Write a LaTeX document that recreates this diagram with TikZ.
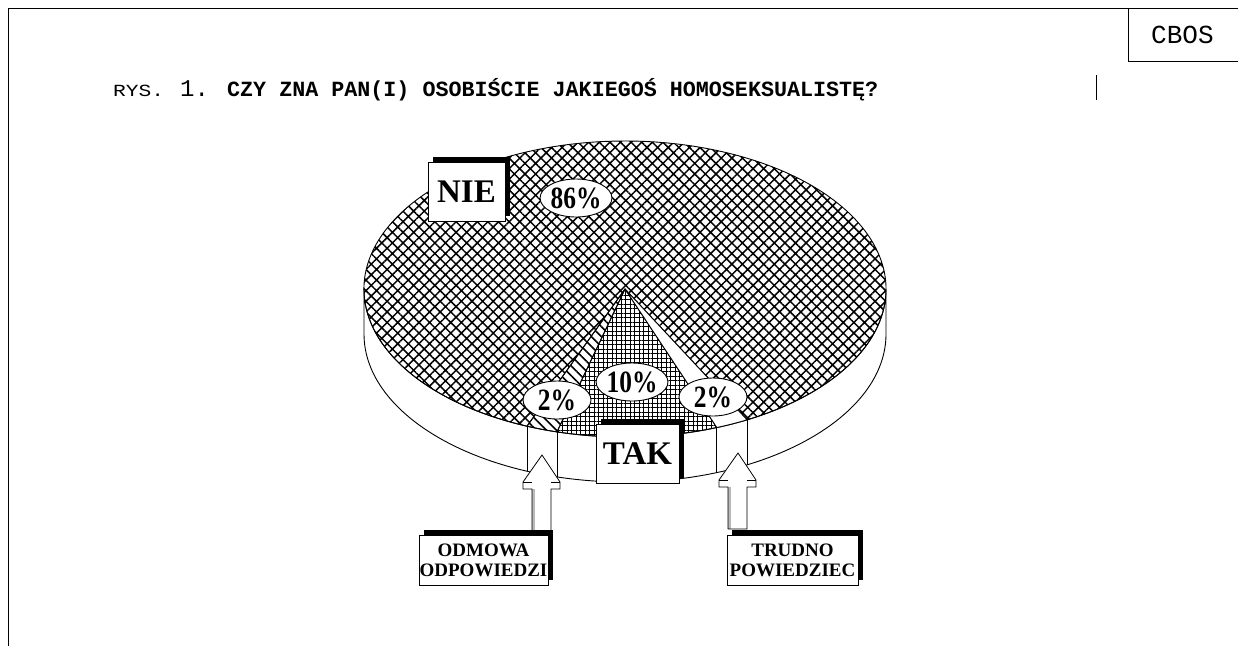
\documentclass[tikz,border=0pt]{standalone}
\usepackage{fontspec}
\setmainfont{Liberation Serif}
\newfontfamily\monof{Liberation Mono}
\usetikzlibrary{patterns.meta,shapes.geometric,shadows}
\begin{document}
\begin{tikzpicture}[x=1pt,y=-1pt,
  thinline/.style={line width=0.8pt},
  edge/.style={line width=0.9pt, line join=round},
  shbox/.style={draw, fill=white, line width=0.8pt, inner sep=0pt,
     drop shadow={shadow xshift=5pt, shadow yshift=5pt, fill=black, opacity=1}},
  pct/.style={ellipse, draw, fill=white, line width=0.9pt, minimum width=68pt, minimum height=38pt, inner sep=0pt,
     font=\fontsize{31}{31}\selectfont\bfseries},
  bigtxt/.style={font=\fontsize{33}{33}\selectfont\bfseries},
  smalltxt/.style={font=\fontsize{19}{20}\selectfont\bfseries, align=center},
  blockarrow/.style={draw, line width=0.8pt, line join=miter},
  hatchNIE/.style={pattern={Hatch[angle=45,distance=7.5pt,line width=1.5pt]}},
  gridTAK/.style={pattern={Hatch[angle=0,distance=4.5pt,line width=0.9pt]}},
  stripes/.style={pattern={Lines[angle=-45,distance=7pt,line width=1.6pt]}},
]
\useasboundingbox (0,0) rectangle (1238,646);
% frame
\draw[thinline] (8,646) -- (8,8) -- (1238,8);
\draw[thinline] (1128,8) -- (1128,61) -- (1238,61);
\node[anchor=base west, inner sep=0pt, font=\monof\fontsize{26}{26}\selectfont] (cbos) at (1151,43) {CBOS};
\draw[thinline] (1096,75) -- (1096,100);
% title
\node[anchor=base west, inner sep=0pt, font=\monof\fontsize{17}{17}\selectfont] (rys) at (113,96) {\scalebox{1.25}[1]{RYS.}};
\node[anchor=base west, inner sep=0pt, font=\monof\fontsize{24}{24}\selectfont] (num) at (180,96) {1.};
\node[anchor=base west, inner sep=0pt, font=\monof\bfseries\fontsize{21.7}{22}\selectfont] (title) at (227,96) {CZY ZNA PAN(I) OSOBIŚCIE JAKIEGOŚ HOMOSEKSUALISTĘ?};
% pie geometry
\coordinate (C) at (625,289);
\coordinate (p1) at (527.0,426.2);
\coordinate (p2) at (557.0,431.9);
\coordinate (p3) at (716.8,427.5);
\coordinate (p4) at (747.1,419.8);
% side
\draw[edge, fill=white] (364,289) -- (364,334) arc[start angle=180,end angle=0,x radius=261,y radius=148] -- (886,289) arc[start angle=0,end angle=180,x radius=261,y radius=148] -- cycle;
\foreach \p in {p1,p2,p3,p4} \draw[edge] (\p) -- ++(0,45);
% slices
\draw[edge, hatchNIE] (C) -- (p1) arc[start angle=112.05,end angle=422.1,x radius=261,y radius=148] -- cycle;
\draw[edge, stripes] (C) -- (p2) arc[start angle=105.1,end angle=112.05,x radius=261,y radius=148] -- cycle;
\draw[edge, gridTAK] (C) -- (p3) arc[start angle=69.4,end angle=105.1,x radius=261,y radius=148] -- cycle;
\draw[edge, fill=white] (C) -- (p4) arc[start angle=62.1,end angle=69.4,x radius=261,y radius=148] -- cycle;
% labels on pie
\node[shbox, minimum width=77pt, minimum height=59pt, bigtxt] (nie) at (466.5,191.5) {NIE};
\node[pct] (p86) at (576,198) {\scalebox{0.82}[1]{86\%}};
\node[pct] (p10) at (632,382) {\scalebox{0.82}[1]{10\%}};
\node[pct] (p2l) at (557,400) {\scalebox{0.82}[1]{2\%}};
\node[pct] (p2r) at (713,397) {\scalebox{0.82}[1]{2\%}};
\node[shbox, minimum width=83pt, minimum height=59pt, bigtxt] (tak) at (637.5,453.5) {TAK};
% block arrows
\coordinate (tipL) at (542,455);
\coordinate (tipR) at (738,453);
\foreach \t in {tipL,tipR}{
  \begin{scope}[shift={(\t)}]
    \fill[white] (0,0) -- (18,27) -- (18,34) -- (9,34) -- (9,76) -- (-10,76) -- (-10,34) -- (-19,34) -- (-19,27) -- cycle;
    \fill[gray!55] (-10,34) rectangle (-7.5,76);
    \draw[blockarrow] (0,0) -- (18,27) -- (18,34) -- (9,34) -- (9,76) -- (-10,76) -- (-10,34) -- (-19,34) -- (-19,27) -- cycle;
    \draw[blockarrow] (-19,27) -- (-10,27) (9,27) -- (18,27);
  \end{scope}
}
% answer boxes
\node[shbox, minimum width=129pt, minimum height=50pt, smalltxt] (odm) at (483.5,560) {ODMOWA\\ODPOWIEDZI};
\node[shbox, minimum width=131pt, minimum height=50pt, smalltxt] (tru) at (792.5,560) {TRUDNO\\POWIEDZIEC};
\end{tikzpicture}
\end{document}
